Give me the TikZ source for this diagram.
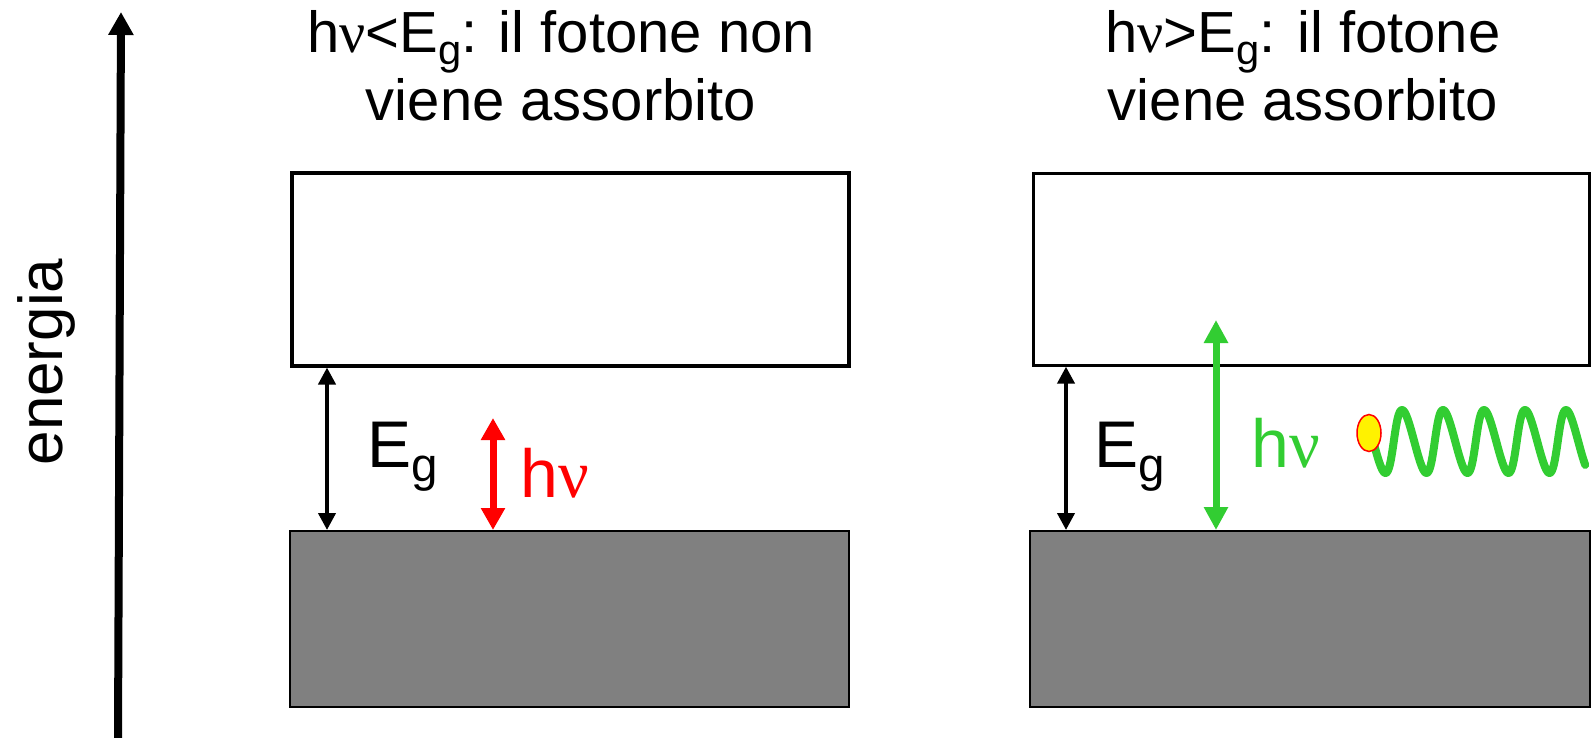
\documentclass[tikz,border=0pt]{standalone}
\usepackage{fontspec}
\setmainfont{Liberation Sans}
\newfontfamily\nufont{Liberation Serif}
\usepackage{graphicx}
\usepackage{xcolor}
\usepackage{tikz}
\usetikzlibrary{arrows.meta,shapes.geometric}

\definecolor{verde}{RGB}{50,205,50}
\definecolor{grigio}{RGB}{128,128,128}
\newcommand{\nuf}{{\nufont ν}}
\newcommand{\lowsub}[1]{\raisebox{-.22em}{\scalebox{.72}{#1}}}

\tikzset{
  titolo/.style={font=\fontsize{58}{68}\selectfont, align=center, inner sep=0pt, anchor=north},
  lbl/.style={font=\fontsize{66}{70}\selectfont, inner sep=0pt, anchor=base west},
  cbanda/.style={draw, fill=white, inner sep=0pt},
  vbanda/.style={draw, fill=grigio, line width=2pt, inner sep=0pt},
  gaparrow/.style={{Triangle[length=17pt,width=17pt]}-{Triangle[length=17pt,width=17pt]}, line width=4pt},
  redarrow/.style={red, {Triangle[length=22pt,width=23pt]}-{Triangle[length=22pt,width=23pt]}, line width=7pt},
  greenarrow/.style={verde, {Triangle[length=23pt,width=23pt]}-{Triangle[length=23pt,width=23pt]}, line width=7pt},
  axisarrow/.style={-{Triangle[length=23pt,width=24pt]}, line width=8pt},
  onda/.style={verde, line width=8pt, line cap=round, line join=round}
}

\begin{document}
\begin{tikzpicture}[x=1pt,y=-1pt]
\useasboundingbox (0,0) rectangle (1593,738);
% asse dell'energia
\coordinate (ebase) at (118,738);
\coordinate (etop) at (121,12);
\draw[axisarrow] (ebase) -- (etop);
\node[rotate=90, anchor=base, inner sep=0pt, font=\fontsize{62}{70}\selectfont] (energia) at (62,362) {energia};
% titoli
\node[titolo] (titL) at (561,10) {h\nuf<E\lowsub{g}: il fotone non\\viene assorbito};
\node[titolo] (titR) at (1303,10) {h\nuf>E\lowsub{g}: il fotone\\viene assorbito};
% bande
\node[cbanda, line width=4pt, minimum width=557, minimum height=192] (cbL) at (570.5,269.5) {};
\node[vbanda, minimum width=559, minimum height=176] (vbL) at (569.5,619) {};
\node[cbanda, line width=2.5pt, minimum width=556, minimum height=192] (cbR) at (1311.6,269.4) {};
\node[vbanda, minimum width=560, minimum height=176] (vbR) at (1310,619) {};
% fotone non assorbito
\coordinate (xgL) at (327,0);
\draw[gaparrow] (xgL |- cbL.south) -- (xgL |- vbL.north);
\node[lbl] (egL) at (367,467) {E\lowsub{g}};
\coordinate (rtop) at (493,418);
\draw[redarrow] (rtop) -- (rtop |- vbL.north);
\node[lbl, red, font=\fontsize{68}{70}\selectfont] (hvL) at (520,497) {h\nuf};
% fotone assorbito
\coordinate (xgR) at (1066,0);
\draw[gaparrow] (xgR |- cbR.south) -- (xgR |- vbR.north);
\node[lbl] (egR) at (1094,467) {E\lowsub{g}};
\coordinate (gtop) at (1216,320);
\draw[greenarrow] (gtop) -- (gtop |- vbR.north);
\node[lbl, verde, font=\fontsize{68}{70}\selectfont] (hvR) at (1251,467) {h\nuf};
\draw[onda] plot[variable=\t, domain=-260:1578, samples=300, smooth] ({1404+(\t/360)*41-2*cos(\t)}, {441.5-31.5*cos(\t)});
\node[ellipse, draw=red, fill=yellow, line width=1.5pt, inner sep=0pt, minimum width=24, minimum height=37] (fot) at (1369,433) {};
\end{tikzpicture}
\end{document}
